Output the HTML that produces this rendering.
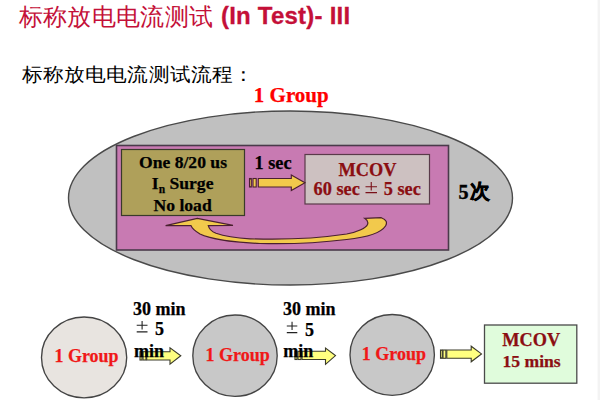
<!DOCTYPE html>
<html><head><meta charset="utf-8">
<style>
*{margin:0;padding:0;box-sizing:border-box}
html,body{width:600px;height:400px;background:#fff;overflow:hidden;position:relative;font-family:"Liberation Sans",sans-serif}
.a{position:absolute;white-space:nowrap}
svg{position:absolute;left:0;top:0}
</style></head><body>
<svg width="600" height="400" viewBox="0 0 600 400">
  <rect x="597.6" y="0" width="2.4" height="400" fill="#F3F3F3"/>
  <ellipse cx="290.5" cy="198" rx="222" ry="87" fill="#C0C0C0" stroke="#4a4a4a" stroke-width="1.4"/>
  <rect x="116.5" y="145.5" width="332" height="104.5" fill="#C87AB2" stroke="#4a3a4a" stroke-width="1.6"/>
  <rect x="121.5" y="149.5" width="123" height="66" fill="#AFA05A" stroke="#3a3a2a" stroke-width="1.2"/>
  <rect x="305" y="154.5" width="124.5" height="49.5" fill="#CDC1C1" stroke="#5a3a4a" stroke-width="1.2"/>
  <g fill="#F2C94C" stroke="#4a2030" stroke-width="1.1">
    <path d="M258.3,178.5 L291.3,178.5 L291.3,175 L305,182.8 L291.3,190.6 L291.3,187 L258.3,187 Z"/>
    <rect x="249.5" y="178.5" width="1.8" height="8.5"/>
    <rect x="253" y="178.5" width="3.2" height="8.5"/>
  </g>
  <path d="M364.7,218.3 L381.3,217.7 C386.5,219.5 387.5,222.5 385.5,226 C381,233 365,237.5 346.7,239.5 C320,242.8 290,244.3 260,243.5 C235,242.5 210,239 200,234 C195,231 192,228.5 191,225.6 L165.6,225.6 L197.3,218.3 L233,225.3 L208.3,225.6 C209,228.5 211.5,231.5 216,233.3 C225,236.5 235,238 250,238.8 C285,240 320,238 346.7,234 C358,232 366,228 367.5,224.5 C368.5,222 367,219.8 364.7,218.3 Z" fill="#F2C94C" stroke="#4a2030" stroke-width="1.2" stroke-linejoin="miter"/>
  <ellipse cx="84.1" cy="357.4" rx="42.6" ry="40.4" fill="#E8E4E0" stroke="#444" stroke-width="1.35"/>
  <ellipse cx="235" cy="355.7" rx="42.2" ry="40.7" fill="#C8C8C8" stroke="#444" stroke-width="1.35"/>
  <ellipse cx="392.2" cy="354.9" rx="42.2" ry="40.4" fill="#C8C8C8" stroke="#444" stroke-width="1.35"/>
  <rect x="484.5" y="325" width="92.3" height="58.2" fill="#E0FCDC" stroke="#4a4a4a" stroke-width="1.3"/>
  <g fill="#FFFF80" stroke="#3a3a2a" stroke-width="1.1">
    <path d="M146.7,351.7 L170,351.7 L170,347.9 L180.8,355.8 L170,364.2 L170,360 L146.7,360 Z"/>
    <rect x="140" y="351.7" width="2" height="8.3"/><rect x="143" y="351.7" width="3" height="8.3"/>
    <path d="M302,351.3 L325.5,351.3 L325.5,348 L335.5,355.6 L325.5,364.3 L325.5,359.5 L302,359.5 Z"/>
    <rect x="295" y="351.3" width="2" height="8.2"/><rect x="298" y="351.3" width="3" height="8.2"/>
    <path d="M446.8,350 L471.2,350 L471.2,346.2 L481.5,353.9 L471.2,361.8 L471.2,358.3 L446.8,358.3 Z"/>
    <rect x="440.5" y="350" width="1.8" height="8.3"/><rect x="443" y="350" width="2.9" height="8.3"/>
  </g>
  <!-- plus-minus glyphs -->
  <g stroke="#7a1018" stroke-width="1.1" fill="none">
    <path d="M365.5,186.8 H377 M371.25,182 V190.5 M365.5,192.6 H377"/>
  </g>
  <g stroke="#222" stroke-width="1.1" fill="none">
    <path d="M136.7,325.3 H147.5 M142.1,321 V329.5 M136.7,331.9 H147.5"/>
    <path d="M286.8,326 H297.3 M292.05,321.7 V330 M286.8,332.6 H297.3"/>
  </g>
</svg>

<div class="a" style="left:18.60px;top:4.93px;font-size:24.4px;line-height:24.4px;color:#C41038;font-family:'Liberation Sans',sans-serif;font-weight:normal;letter-spacing:0.35px;">标称放电电流测试</div>
<div class="a" style="left:221.00px;top:3.68px;font-size:24px;line-height:24px;color:#C41038;font-family:'Liberation Sans',sans-serif;font-weight:bold;letter-spacing:0.22px;-webkit-text-stroke:0.3px currentColor;">(In Test)- III</div>
<div class="a" style="left:21.80px;top:63.02px;font-size:21px;line-height:21px;color:#000;font-family:'Liberation Sans',sans-serif;font-weight:normal;letter-spacing:0.12px;transform:scaleY(0.92);transform-origin:0 80%;">标称放电电流测试流程：</div>
<div class="a" style="left:253.80px;top:85.21px;font-size:21px;line-height:21px;color:#FF0000;font-family:'Liberation Serif',serif;font-weight:bold;-webkit-text-stroke:0.25px currentColor;">1 Group</div>
<div class="a" style="left:139.00px;top:154.26px;font-size:17.6px;line-height:17.6px;color:#000;font-family:'Liberation Serif',serif;font-weight:bold;-webkit-text-stroke:0.25px currentColor;">One 8/20 us</div>
<div class="a" style="left:151.80px;top:174.96px;font-size:17.6px;line-height:17.6px;color:#000;font-family:'Liberation Serif',serif;font-weight:bold;-webkit-text-stroke:0.25px currentColor;">I<span style="font-size:11.5px;position:relative;top:4.5px">n</span> Surge</div>
<div class="a" style="left:153.50px;top:196.76px;font-size:17.6px;line-height:17.6px;color:#000;font-family:'Liberation Serif',serif;font-weight:bold;-webkit-text-stroke:0.25px currentColor;">No load</div>
<div class="a" style="left:254.50px;top:154.47px;font-size:18.3px;line-height:18.3px;color:#000;font-family:'Liberation Serif',serif;font-weight:bold;-webkit-text-stroke:0.25px currentColor;">1 sec</div>
<div class="a" style="left:338.60px;top:160.77px;font-size:18.3px;line-height:18.3px;color:#8B0E12;font-family:'Liberation Serif',serif;font-weight:bold;-webkit-text-stroke:0.25px currentColor;">MCOV</div>
<div class="a" style="left:313.60px;top:180.47px;font-size:18.3px;line-height:18.3px;color:#8B0E12;font-family:'Liberation Serif',serif;font-weight:bold;-webkit-text-stroke:0.25px currentColor;">60 sec</div>
<div class="a" style="left:383.80px;top:180.47px;font-size:18.3px;line-height:18.3px;color:#8B0E12;font-family:'Liberation Serif',serif;font-weight:bold;-webkit-text-stroke:0.25px currentColor;">5 sec</div>
<div class="a" style="left:458.50px;top:181.85px;font-size:20px;line-height:20px;color:#000;font-family:'Liberation Serif',serif;font-weight:bold;-webkit-text-stroke:0.25px currentColor;-webkit-text-stroke:0.45px #000;">5<span style="font-family:'Liberation Sans',sans-serif;-webkit-text-stroke:0.5px #000;position:relative;top:-0.8px;margin-left:1.8px">次</span></div>
<div class="a" style="left:54.60px;top:348.11px;font-size:17.9px;line-height:17.9px;color:#F01818;font-family:'Liberation Serif',serif;font-weight:bold;-webkit-text-stroke:0.25px currentColor;">1 Group</div>
<div class="a" style="left:205.60px;top:346.33px;font-size:18px;line-height:18px;color:#F01818;font-family:'Liberation Serif',serif;font-weight:bold;-webkit-text-stroke:0.25px currentColor;">1 Group</div>
<div class="a" style="left:361.80px;top:345.43px;font-size:18px;line-height:18px;color:#F01818;font-family:'Liberation Serif',serif;font-weight:bold;-webkit-text-stroke:0.25px currentColor;">1 Group</div>
<div class="a" style="left:133.00px;top:300.12px;font-size:18px;line-height:18px;color:#000;font-family:'Liberation Serif',serif;font-weight:bold;-webkit-text-stroke:0.25px currentColor;">30 min</div>
<div class="a" style="left:154.90px;top:320.43px;font-size:18px;line-height:18px;color:#000;font-family:'Liberation Serif',serif;font-weight:bold;-webkit-text-stroke:0.25px currentColor;">5</div>
<div class="a" style="left:134.00px;top:342.12px;font-size:18px;line-height:18px;color:#000;font-family:'Liberation Serif',serif;font-weight:bold;-webkit-text-stroke:0.25px currentColor;">min</div>
<div class="a" style="left:283.10px;top:300.12px;font-size:18px;line-height:18px;color:#000;font-family:'Liberation Serif',serif;font-weight:bold;-webkit-text-stroke:0.25px currentColor;">30 min</div>
<div class="a" style="left:304.90px;top:320.83px;font-size:18px;line-height:18px;color:#000;font-family:'Liberation Serif',serif;font-weight:bold;-webkit-text-stroke:0.25px currentColor;">5</div>
<div class="a" style="left:283.30px;top:342.43px;font-size:18px;line-height:18px;color:#000;font-family:'Liberation Serif',serif;font-weight:bold;-webkit-text-stroke:0.25px currentColor;">min</div>
<div class="a" style="left:502.30px;top:331.37px;font-size:18.3px;line-height:18.3px;color:#8B0E12;font-family:'Liberation Serif',serif;font-weight:bold;-webkit-text-stroke:0.25px currentColor;">MCOV</div>
<div class="a" style="left:502.50px;top:352.56px;font-size:17.6px;line-height:17.6px;color:#8B0E12;font-family:'Liberation Serif',serif;font-weight:bold;-webkit-text-stroke:0.25px currentColor;">15 mins</div>
</body></html>
